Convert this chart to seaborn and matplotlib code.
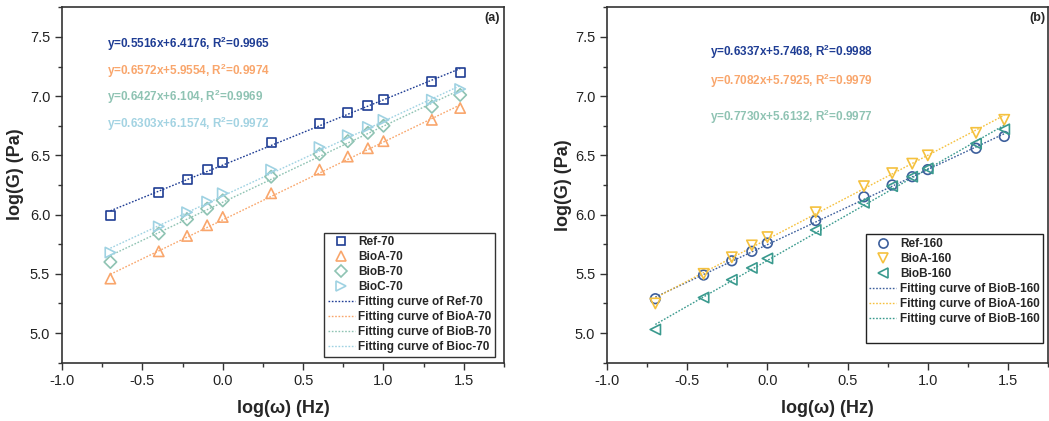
import numpy as np
import pandas as pd
import seaborn as sns
import matplotlib
matplotlib.use('Agg')
import matplotlib.pyplot as plt
from matplotlib.ticker import MultipleLocator
from matplotlib.lines import Line2D

## log(w) positions of the frequency sweep
log_w = [-0.699, -0.398, -0.222, -0.097, 0.0, 0.301, 0.602, 0.778, 0.903, 1.0, 1.301, 1.477]

## panel (a) : 70 C
ref70  = [5.99, 6.19, 6.30, 6.38, 6.44, 6.61, 6.77, 6.86, 6.92, 6.97, 7.12, 7.20]
bioa70 = [5.46, 5.69, 5.82, 5.91, 5.98, 6.18, 6.38, 6.49, 6.56, 6.62, 6.80, 6.90]
biob70 = [5.60, 5.84, 5.96, 6.05, 6.12, 6.32, 6.51, 6.62, 6.69, 6.75, 6.91, 7.01]
bioc70 = [5.68, 5.90, 6.02, 6.11, 6.18, 6.38, 6.57, 6.67, 6.74, 6.80, 6.97, 7.06]

## panel (b) : 160 C
ref160  = [5.29, 5.49, 5.61, 5.69, 5.76, 5.95, 6.15, 6.25, 6.32, 6.38, 6.56, 6.66]
bioa160 = [5.25, 5.50, 5.64, 5.74, 5.81, 6.02, 6.24, 6.35, 6.43, 6.50, 6.69, 6.80]
biob160 = [5.03, 5.30, 5.45, 5.55, 5.63, 5.87, 6.10, 6.24, 6.32, 6.39, 6.60, 6.72]

names_a  = ['Ref-70', 'BioA-70', 'BioB-70', 'BioC-70']
fitlab_a = ['Fitting curve of Ref-70', 'Fitting curve of BioA-70',
            'Fitting curve of BioB-70', 'Fitting curve of Bioc-70']
slope_a  = [0.5516, 0.6572, 0.6427, 0.6303]
icept_a  = [6.4176, 5.9554, 6.104, 6.1574]
eq_a     = ['y=0.5516x+6.4176, R$^{\\mathbf{2}}$=0.9965',
            'y=0.6572x+5.9554, R$^{\\mathbf{2}}$=0.9974',
            'y=0.6427x+6.104, R$^{\\mathbf{2}}$=0.9969',
            'y=0.6303x+6.1574, R$^{\\mathbf{2}}$=0.9972']

names_b  = ['Ref-160', 'BioA-160', 'BioB-160']
fitlab_b = ['Fitting curve of BioB-160', 'Fitting curve of BioA-160',
            'Fitting curve of BioB-160']
slope_b  = [0.6337, 0.7082, 0.7730]
icept_b  = [5.7468, 5.7925, 5.6132]
eq_b     = ['y=0.6337x+5.7468, R$^{\\mathbf{2}}$=0.9988',
            'y=0.7082x+5.7925, R$^{\\mathbf{2}}$=0.9979',
            'y=0.7730x+5.6132, R$^{\\mathbf{2}}$=0.9977']

################################################
sns.set_theme(style='ticks')
plt.rcParams['font.family'] = ['Liberation Sans', 'DejaVu Sans']
plt.rcParams['mathtext.fontset'] = 'custom'
plt.rcParams['mathtext.rm'] = 'Liberation Sans'
plt.rcParams['mathtext.bf'] = 'Liberation Sans:bold'
plt.rcParams['axes.unicode_minus'] = False

cols_a  = ['#1f3d94', '#f9a66c', '#8fc3b3', '#9fd2e2']
mark_a  = ['s', '^', 'D', '>']
msize_a = [42, 55, 40, 55]
eqcol_a = ['#1f3d94', '#f9a66c', '#8fc3b3', '#a3d3e2']

cols_b  = ['#3d5f9c', '#f5c13e', '#3a9a8e']
mark_b  = ['o', 'v', '<']
msize_b = [48, 55, 55]
eqcol_b = ['#1f3d94', '#f9a66c', '#8fc3b3']

fig = plt.figure(figsize=(10.49, 4.21), dpi=100)
ax1 = fig.add_axes([0.0591, 0.1385, 0.4214, 0.8442])
ax2 = fig.add_axes([0.5787, 0.1385, 0.4204, 0.8442])


def draw_panel(ax, series, names, fitlabs, slopes, icepts, cols, marks, msizes):
  x = np.array(log_w)
  pts, fits = [], []
  for ys, nm, fl, k, b, c, m, s in zip(series, names, fitlabs, slopes, icepts,
                                       cols, marks, msizes):
    df = pd.DataFrame({'x': x, 'y': ys})
    sns.scatterplot(data=df, x='x', y='y', ax=ax, marker=m, s=s, color=c,
                    facecolor='none', edgecolor=c, linewidth=1.2, zorder=3)
    fit = pd.DataFrame({'x': [x[0], x[-1]],
                        'y': [k * x[0] + b, k * x[-1] + b]})
    sns.lineplot(data=fit, x='x', y='y', ax=ax, color=c, lw=1.0,
                 linestyle=(0, (1.2, 1.2)), zorder=2)
    pts.append(Line2D([], [], ls='none', marker=m, ms=np.sqrt(s) * 0.95,
                      mfc='none', mec=c, mew=1.2))
    fits.append(Line2D([], [], color=c, lw=1.0, linestyle=(0, (1.2, 1.2))))
  return pts, fits


def style_axes(ax, ylab_x, ylab_y):
  ax.set_xlim(-1.0, 1.75)
  ax.set_ylim(4.75, 7.75)
  ax.xaxis.set_major_locator(MultipleLocator(0.5))
  ax.xaxis.set_minor_locator(MultipleLocator(0.25))
  ax.yaxis.set_major_locator(MultipleLocator(0.5))
  ax.yaxis.set_minor_locator(MultipleLocator(0.25))
  ax.tick_params(which='major', direction='out', length=5, width=1.0,
                 labelsize=10.5, colors='#333333', labelcolor='#222222')
  ax.tick_params(which='minor', direction='out', length=3, width=1.0,
                 colors='#333333')
  for sp in ax.spines.values():
    sp.set_visible(True)
    sp.set_linewidth(1.2)
    sp.set_color('#333333')
  ax.set_xlabel('log(ω) (Hz)', fontsize=13, fontweight='bold')
  ax.set_ylabel('log(G) (Pa)', fontsize=13, fontweight='bold')
  ax.xaxis.set_label_coords(0.5, -0.105)
  ax.yaxis.set_label_coords(ylab_x, ylab_y)


## panel (a)
pts, fits = draw_panel(ax1, [ref70, bioa70, biob70, bioc70], names_a, fitlab_a,
                       slope_a, icept_a, cols_a, mark_a, msize_a)
style_axes(ax1, -0.085, 0.53)
for t, c, yy in zip(eq_a, eqcol_a, [0.896, 0.821, 0.748, 0.671]):
  ax1.text(0.101, yy, t, color=c, fontsize=8.5, fontweight='bold',
           transform=ax1.transAxes, va='center', ha='left')
ax1.text(0.991, 0.97, '(a)', fontsize=9, fontweight='bold', ha='right',
         va='center', transform=ax1.transAxes)
leg = ax1.legend(pts + fits, names_a + fitlab_a, loc='lower right',
                 bbox_to_anchor=(0.9796, 0.0169), borderaxespad=0,
                 fancybox=False, edgecolor='#333333', framealpha=1,
                 prop={'size': 8.5, 'weight': 'bold'}, labelspacing=0.25,
                 handlelength=2.3, handletextpad=0.3, borderpad=0.3)
leg.get_frame().set_linewidth(1.0)

## panel (b)
pts, fits = draw_panel(ax2, [ref160, bioa160, biob160], names_b, fitlab_b,
                       slope_b, icept_b, cols_b, mark_b, msize_b)
style_axes(ax2, -0.08, 0.5)
for t, c, yy in zip(eq_b, eqcol_b, [0.875, 0.793, 0.692]):
  ax2.text(0.2336, yy, t, color=c, fontsize=8.5, fontweight='bold',
           transform=ax2.transAxes, va='center', ha='left')
ax2.text(0.995, 0.97, '(b)', fontsize=9, fontweight='bold', ha='right',
         va='center', transform=ax2.transAxes)
blank = Line2D([], [], ls='none')
leg = ax2.legend(pts + fits + [blank], names_b + fitlab_b + [' '],
                 loc='lower right', bbox_to_anchor=(0.9887, 0.0546),
                 borderaxespad=0, fancybox=False, edgecolor='#222222',
                 framealpha=1, prop={'size': 8.5, 'weight': 'bold'},
                 labelspacing=0.25, handlelength=2.3, handletextpad=0.3,
                 borderpad=0.3)
leg.get_frame().set_linewidth(1.0)

plt.savefig('out.png', dpi=100)
